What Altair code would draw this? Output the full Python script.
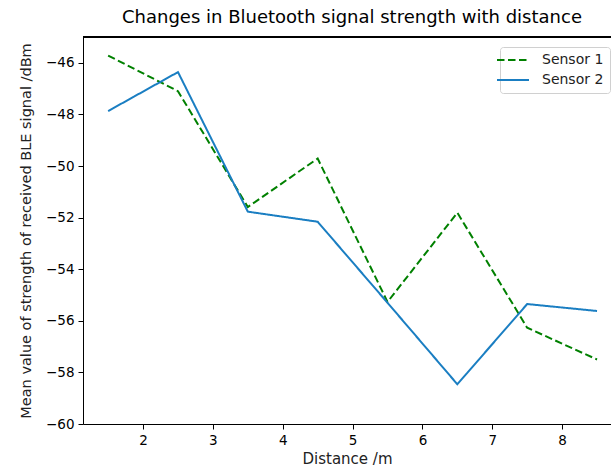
import altair as alt
import pandas as pd

distance = [1.5, 2.5, 3.5, 4.5, 5.5, 6.5, 7.5, 8.5]
sensor1 = [-45.72, -47.10, -51.59, -49.71, -55.27, -51.81, -56.27, -57.50]
sensor2 = [-47.87, -46.36, -51.77, -52.16, -55.30, -58.46, -55.35, -55.62]
series_names = ["Sensor 1", "Sensor 2"]
y_ticks = [-60, -58, -56, -54, -52, -50, -48, -46]
x_ticks = [2, 3, 4, 5, 6, 7, 8]

rows = []
for d, v in zip(distance, sensor1):
    rows.append({"Distance": d, "Value": v, "Series": series_names[0]})
for d, v in zip(distance, sensor2):
    rows.append({"Distance": d, "Value": v, "Series": series_names[1]})
df = pd.DataFrame(rows)

FONT = "DejaVu Sans"

legend_cfg = dict(title=None, orient="none", legendX=417, legendY=10,
                  symbolType="M-3.2,0H3.2", symbolSize=100,
                  symbolStrokeWidth=2, labelFontSize=14,
                  labelFont=FONT, labelColor="#222",
                  strokeColor="#d0d0d0", fillColor="white",
                  cornerRadius=3, padding=6, rowPadding=6,
                  labelOffset=22)

lines = alt.Chart(df).mark_line(strokeWidth=2).encode(
    x=alt.X("Distance:Q",
            scale=alt.Scale(domain=[1.14, 8.70], nice=False, zero=False),
            axis=alt.Axis(title="Distance /m", values=x_ticks, grid=False,
                          tickSize=5, labelPadding=4, titlePadding=5,
                          domainColor="black", tickColor="black",
                          labelFontSize=13.5, titleFontSize=15,
                          labelColor="black", titleColor="#222",
                          titleFontWeight="normal", labelFont=FONT, titleFont=FONT,
                          labelFlush=False)),
    y=alt.Y("Value:Q",
            scale=alt.Scale(domain=[-60, -45], nice=False, zero=False),
            axis=alt.Axis(title="Mean value of strength of received BLE signal /dBm",
                          values=y_ticks, grid=False, tickSize=5, labelPadding=4,
                          titlePadding=12, domainColor="black", tickColor="black",
                          labelFontSize=13.5, titleFontSize=14.5,
                          labelColor="black", titleColor="#222",
                          titleFontWeight="normal", labelFont=FONT, titleFont=FONT,
                          labelFlush=False)),
    color=alt.Color("Series:N",
                    scale=alt.Scale(domain=series_names, range=["#008000", "#1a7ec2"]),
                    legend=alt.Legend(**legend_cfg)),
    strokeDash=alt.StrokeDash("Series:N",
                              scale=alt.Scale(domain=series_names, range=[[7.5, 3.5], [1, 0]]),
                              legend=alt.Legend(**legend_cfg)),
)

top_spine = alt.Chart(df).mark_rule(color="black", strokeWidth=1).encode(
    x=alt.value(0), x2=alt.value(528), y=alt.value(0)
)

chart = alt.layer(lines, top_spine).properties(
    width=528, height=387,
    title=alt.TitleParams("Changes in Bluetooth signal strength with distance",
                          font=FONT, fontSize=18, fontWeight="normal", color="black",
                          anchor="middle", offset=10, dx=5),
    autosize=alt.AutoSizeParams(type="none"),
    padding={"left": 83, "top": 37, "right": 0, "bottom": 46},
).configure_view(stroke=None).configure(background="white")

chart.save("out.html", embed_options={"renderer": "svg", "actions": False})
